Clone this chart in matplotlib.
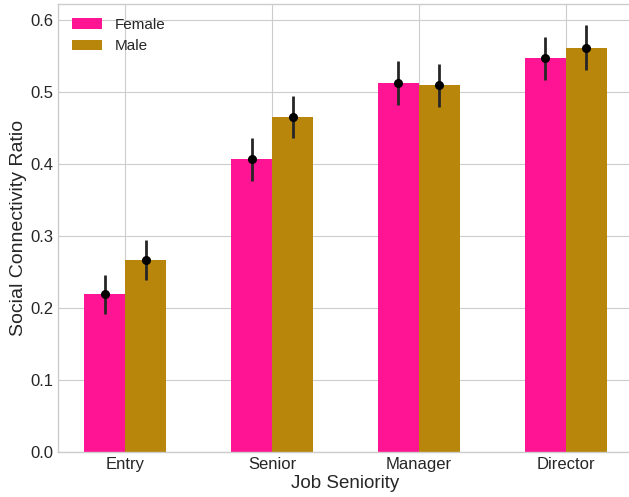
import matplotlib
matplotlib.use("Agg")
import matplotlib.pyplot as plt
import numpy as np

plt.style.use("seaborn-v0_8-whitegrid")
plt.rcParams["font.family"] = ["Liberation Sans", "DejaVu Sans"]

categories = ["Entry", "Senior", "Manager", "Director"]
female = [0.219, 0.406, 0.512, 0.546]
female_err = [0.027, 0.030, 0.031, 0.030]
male = [0.266, 0.465, 0.509, 0.561]
male_err = [0.028, 0.029, 0.030, 0.031]

x = np.arange(len(categories))
width = 0.28

fig = plt.figure(figsize=(6.29, 4.97), dpi=100)
ax = fig.add_axes([58 / 629, 45 / 497, 575 / 629, 448 / 497])

ax.bar(x - width / 2, female, width, color="#FF1493", label="Female", zorder=2)
ax.bar(x + width / 2, male, width, color="#B8860B", label="Male", zorder=2)
ax.errorbar(x - width / 2, female, yerr=female_err, fmt="o", color="black",
            ecolor="#262626", elinewidth=2, markersize=5.5, zorder=3)
ax.errorbar(x + width / 2, male, yerr=male_err, fmt="o", color="black",
            ecolor="#262626", elinewidth=2, markersize=5.5, zorder=3)

ax.set_xticks(x)
ax.set_xticklabels(categories)
ax.tick_params(axis="both", labelsize=12)
ax.set_xlabel("Job Seniority", fontsize=13.5, labelpad=2)
ax.set_ylabel("Social Connectivity Ratio", fontsize=14, labelpad=2)
ax.legend(loc="upper left", fontsize=11, frameon=False)

fig.savefig("out.png", dpi=100)
